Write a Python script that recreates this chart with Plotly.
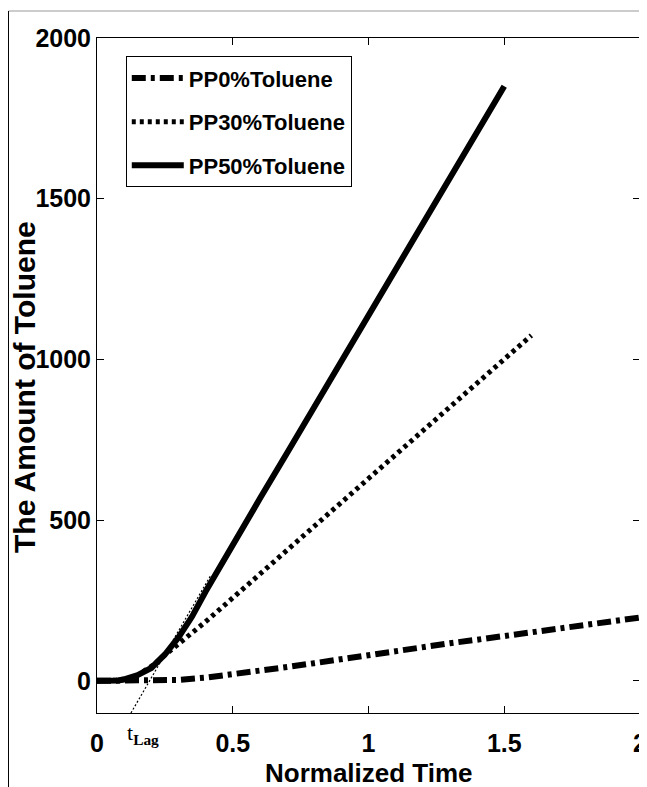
import plotly.graph_objects as go

# ---- data ----
pp0_x = [0, 0.1, 0.2, 0.3, 0.4, 0.5, 0.6, 0.7, 0.8, 0.9, 1.0, 1.1, 1.2, 1.3, 1.4, 1.5, 1.6, 1.7, 1.8, 1.9, 2.0]
pp0_y = [0, 0, 0, 3, 10, 20, 31, 43, 55, 68, 80, 93, 105, 117, 128, 140, 152, 163, 175, 186, 197]

pp30_x = [0, 0.05, 0.1, 0.15, 0.2, 0.25, 0.3, 0.4, 0.5, 0.6, 0.7, 0.8, 0.9, 1.0, 1.1, 1.2, 1.3, 1.4, 1.5, 1.6]
pp30_y = [0, 0, 3, 18, 45, 80, 114, 184, 258, 332, 406, 480, 555, 630, 704, 778, 852, 927, 1001, 1075]

pp50_x = [0, 0.05, 0.08, 0.1, 0.15, 0.2, 0.25, 0.3, 0.35, 0.4, 0.5, 0.6, 0.7, 0.8, 0.9, 1.0, 1.1, 1.2, 1.3, 1.4, 1.5]
pp50_y = [0, 0, 1, 5, 18, 40, 82, 135, 200, 278, 425, 567, 709, 851, 993, 1135, 1278, 1421, 1564, 1707, 1850]

tangent_x = [0.125, 0.42]
tangent_y = [-100, 330]

series_names = ["PP0%Toluene", "PP30%Toluene", "PP50%Toluene"]
x_ticks = [0, 0.5, 1, 1.5, 2]
x_tick_labels = ["0", "0.5", "1", "1.5", "2"]
y_ticks = [0, 500, 1000, 1500, 2000]
y_tick_labels = ["0", "500", "1000", "1500", "2000"]

SANS = "Liberation Sans, Arial"

fig = go.Figure()
fig.add_trace(go.Scatter(x=pp0_x, y=pp0_y, mode="lines", name=series_names[0], legendgroup="a",
                         line=dict(color="black", width=6, dash="14px,5px,4px,5px")))
fig.add_trace(go.Scatter(x=pp30_x, y=pp30_y, mode="lines", name=series_names[1], legendgroup="b",
                         line=dict(color="black", width=5, dash="4px,4px")))
fig.add_trace(go.Scatter(x=pp50_x, y=pp50_y, mode="lines", name=series_names[2], legendgroup="c",
                         line=dict(color="black", width=6)))
fig.add_trace(go.Scatter(x=tangent_x, y=tangent_y, mode="lines", showlegend=False,
                         line=dict(color="black", width=1.2, dash="2px,2px")))

fig.update_layout(
    width=639, height=779,
    margin=dict(l=89, r=7, t=30, b=74),
    paper_bgcolor="white", plot_bgcolor="white",
    font=dict(family=SANS, color="black", size=22),
    legend=dict(x=0.053, y=0.973, xanchor="left", yanchor="top",
                bordercolor="black", borderwidth=1, bgcolor="white",
                font=dict(family=SANS, size=22, weight="bold"),
                itemwidth=52, tracegroupgap=12),
    xaxis=dict(range=[0, 2], tickvals=x_ticks, ticktext=x_tick_labels, automargin=False,
               showgrid=False, zeroline=False, showline=True, linecolor="black", linewidth=1,
               mirror="ticks", ticks="inside", ticklen=7, tickcolor="black",
               ticklabelstandoff=8,
               tickfont=dict(family=SANS, size=25, weight="bold")),
    yaxis=dict(range=[-100, 2000], tickvals=y_ticks, ticktext=y_tick_labels, automargin=False,
               showgrid=False, zeroline=False, showline=True, linecolor="black", linewidth=1,
               mirror="ticks", ticks="inside", ticklen=7, tickcolor="black",
               tickfont=dict(family=SANS, size=25, weight="bold")),
    annotations=[
        dict(x=0.17, y=-0.008, xref="x", yref="paper", xanchor="center", yanchor="top",
             text="t<sub><b>Lag</b></sub>", showarrow=False,
             font=dict(family="Liberation Serif, Times New Roman", size=22, color="black")),
        dict(x=0.5, y=-0.089, xref="paper", yref="paper", xanchor="center", yanchor="middle",
             text="<b>Normalized Time</b>", showarrow=False,
             font=dict(family=SANS, size=26, color="black")),
        dict(x=-0.1326, y=0.483, xref="paper", yref="paper", xanchor="center", yanchor="middle",
             text="<b>The Amount of Toluene</b>", showarrow=False, textangle=-90,
             font=dict(family=SANS, size=30, color="black")),
    ],
    shapes=[
        dict(type="line", xref="paper", yref="paper", x0=-0.163, x1=1.02, y0=1.04, y1=1.04,
             line=dict(color="#999999", width=1)),
        dict(type="line", xref="paper", yref="paper", x0=-0.163, x1=-0.163, y0=1.04, y1=-0.2,
             line=dict(color="black", width=1)),
    ],
)

fig.write_html("out.html")
